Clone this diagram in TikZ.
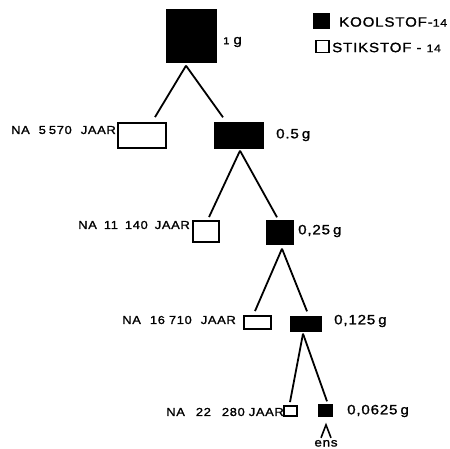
\documentclass[tikz,border=0pt]{standalone}
\usepackage{fontspec}
\setmainfont{Liberation Sans}
\newfontfamily\treefont[LetterSpace=6,FakeStretch=1.12,FakeBold=1.2]{Liberation Sans}
\newfontfamily\keyfont[LetterSpace=6,FakeStretch=1.12,FakeBold=1.2]{Liberation Sans}
\newcommand{\wgap}[1][7pt]{\hspace{#1}}
\begin{document}
\begin{tikzpicture}[x=1pt,y=-1pt,
  carbon/.style={draw=black, fill=black, line width=1.4pt, inner sep=0pt},
  nitrogen/.style={draw=black, fill=white, line width=1.8pt, inner sep=0pt},
  branch/.style={line width=1.8pt},
  age/.style={anchor=east, inner sep=0pt, font=\treefont\fontsize{11.5}{12}\selectfont},
  mass/.style={anchor=west, inner sep=0pt, font=\treefont\fontsize{13.5}{14}\selectfont},
  key/.style={anchor=west, inner sep=0pt, font=\keyfont\fontsize{13.5}{14}\selectfont}]
\useasboundingbox (0,0) rectangle (450,449);

% legend
\node[carbon, minimum width=15pt, minimum height=14pt] (kc) at (321.5,21) {};
\node[key] (kct) at (339,22) {KOOLSTOF-{\fontsize{11}{12}\selectfont 14}};
\node[nitrogen, minimum width=13pt, minimum height=12pt] (kn) at (322.5,46.5) {};
\node[key] (knt) at (332,47.5) {STIKSTOF - {\fontsize{11}{12}\selectfont 14}};

% decay tree: carbon-14 (filled) splits off nitrogen-14 (open)
\node[carbon, minimum width=49pt, minimum height=52pt] (c0) at (191.5,36) {};
\node[nitrogen, minimum width=48pt, minimum height=25pt] (n1) at (142,135.5) {};
\node[carbon, minimum width=48pt, minimum height=25pt] (c1) at (239,135.5) {};
\node[nitrogen, minimum width=26pt, minimum height=21pt] (n2) at (206,231.5) {};
\node[carbon, minimum width=26pt, minimum height=23pt] (c2) at (280,232.5) {};
\node[nitrogen, minimum width=27pt, minimum height=13pt] (n3) at (257.5,322.5) {};
\node[carbon, minimum width=30pt, minimum height=14pt] (c3) at (306,324) {};
\node[nitrogen, minimum width=13pt, minimum height=10pt] (n4) at (290.5,411) {};
\node[carbon, minimum width=13pt, minimum height=11pt] (c4) at (325.5,410.5) {};

% branches
\draw[branch] ([xshift=-5.5pt,yshift=-3pt]c0.south) -- ([xshift=13pt,yshift=5pt]n1.north);
\draw[branch] ([xshift=-5.5pt,yshift=-3pt]c0.south) -- ([xshift=-16pt,yshift=5pt]c1.north);
\draw[branch] ([xshift=1pt,yshift=-2pt]c1.south) -- ([xshift=3pt,yshift=3pt]n2.north);
\draw[branch] ([xshift=1pt,yshift=-2pt]c1.south) -- ([xshift=-3pt,yshift=3pt]c2.north);
\draw[branch] ([xshift=2pt,yshift=-4pt]c2.south) -- ([xshift=-2.5pt,yshift=4pt]n3.north);
\draw[branch] ([xshift=2pt,yshift=-4pt]c2.south) -- ([xshift=1pt,yshift=5pt]c3.north);
\draw[branch] ([xshift=-3pt,yshift=-2pt]c3.south) -- ([xshift=-0.5pt,yshift=3pt]n4.north);
\draw[branch] ([xshift=-3pt,yshift=-2pt]c3.south) -- ([xshift=1.5pt,yshift=3pt]c4.north);

% masses
\node[mass] (m0) at (223,42) {{\fontsize{10}{12}\selectfont 1}\hspace{4pt}g};
\node[mass] (m1) at (276,135) {0.5\hspace{3pt}g};
\node[mass] (m2) at (298,231) {0,25\hspace{3pt}g};
\node[mass] (m3) at (334,321) {0,125\hspace{3pt}g};
\node[mass] (m4) at (347,411) {0,0625\hspace{3pt}g};

% ages
\node[age] (t1) at (116,130) {NA\wgap[9pt]5\hspace{3pt}570\wgap[9pt]JAAR};
\node[age] (t2) at (190,225) {NA\wgap 11\wgap 140\wgap JAAR};
\node[age] (t3) at (236,320) {NA\wgap[9pt]16\hspace{4pt}710\wgap[9pt]JAAR};
\node[age] (t4) at (284,412) {NA\wgap[11pt]22\wgap[11pt]280\hspace{4pt}JAAR};

% pointer to the last carbon box
\node[anchor=base, inner sep=0pt, font=\treefont\fontsize{12}{12}\selectfont] (ens) at (326,446.5) {ens};
\draw[line width=1.6pt] ([xshift=-5pt,yshift=2pt]ens.north) -- ([yshift=15pt]ens.north) -- ([xshift=5pt,yshift=2pt]ens.north);
\end{tikzpicture}
\end{document}
